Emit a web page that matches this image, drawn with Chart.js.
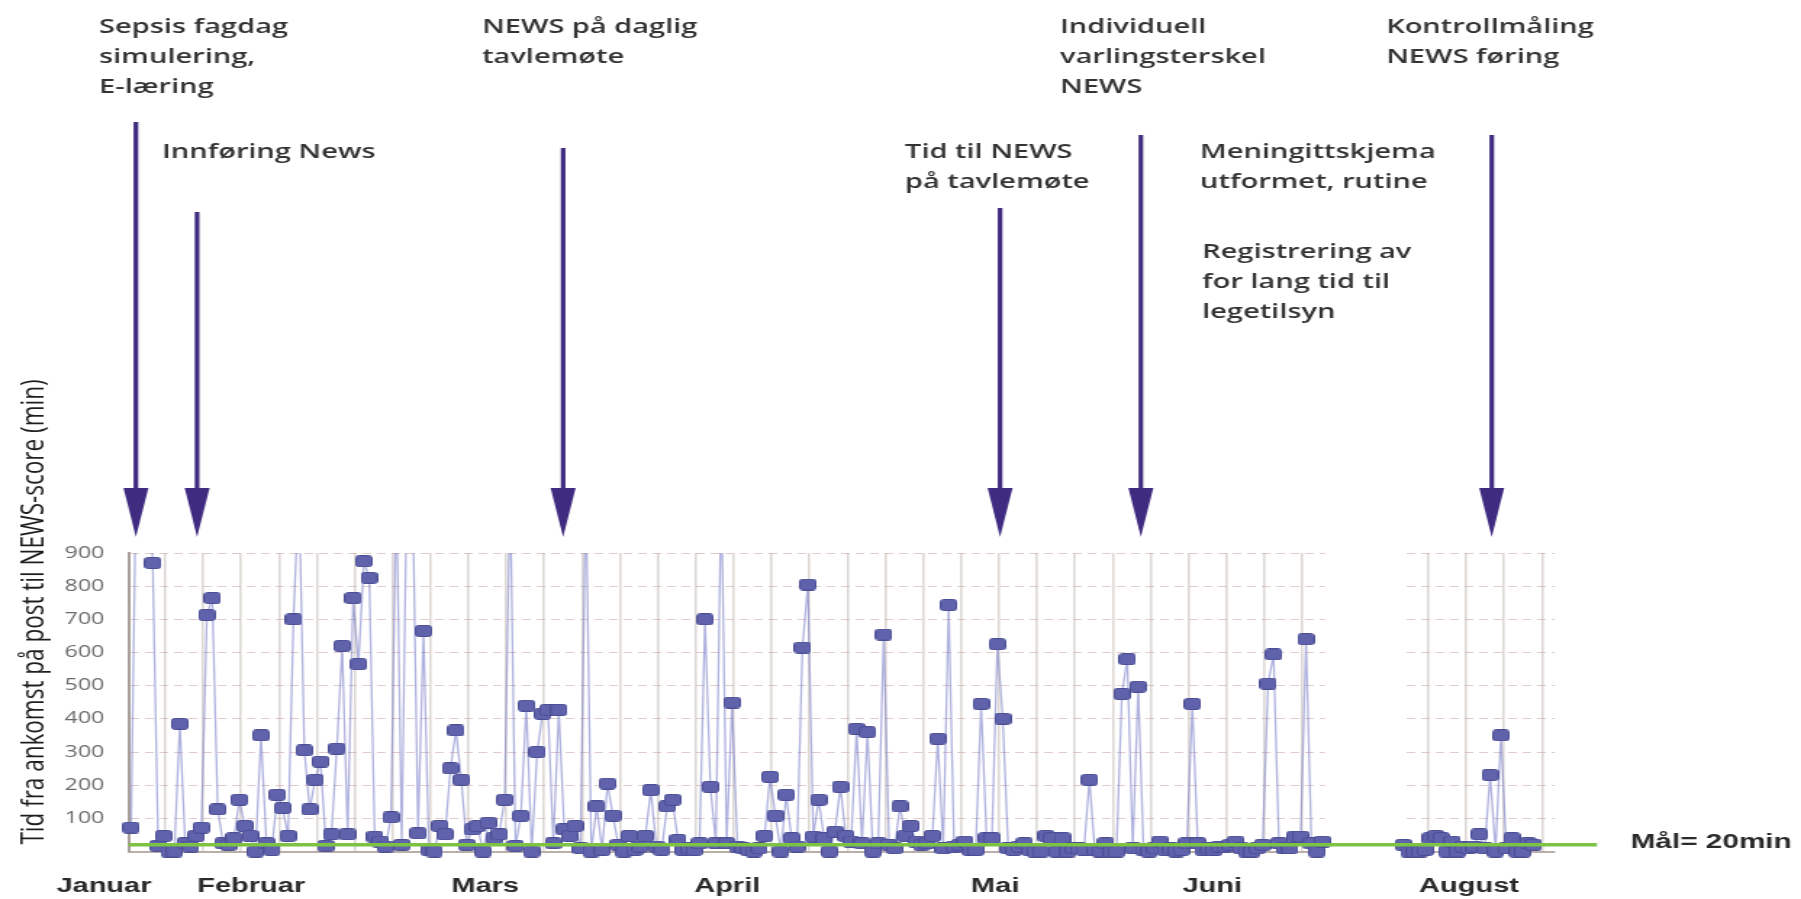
<!DOCTYPE html>
<html lang="no">
<head>
<meta charset="utf-8">
<title>Tid fra ankomst på post til NEWS-score</title>
<script src="https://cdn.jsdelivr.net/npm/chart.js@4.4.1/dist/chart.umd.min.js"></script>
<style>
  html, body { margin: 0; padding: 0; background: #fff; overflow: hidden; }
  #wrap { width: 1801px; height: 899px; overflow: hidden; }
  /* the original picture is stretched sideways, so the canvas is too */
  #newsChart { transform: scaleX(1.4501); transform-origin: 0 0; }
</style>
</head>
<body>
<div id="wrap"><canvas id="newsChart" width="1242" height="899"></canvas></div>
<script>
// --- data (minutes, one registration per day) ---
const MAIN_VALUES = [
  72, 1200, 1500, 1300, 870, 17, 47, 0, 0, 385,
  25, 15, 47, 72, 713, 764, 127, 25, 20, 40,
  156, 77, 47, 0, 350, 25, 5, 171, 131, 47,
  700, 1100, 305, 127, 216, 271, 17, 52, 310, 620,
  52, 764, 565, 875, 825, 45, 30, 15, 103, 1100,
  20, 1200, 1100, 55, 665, 5, 0, 77, 52, 251,
  365, 216, 20, 67, 77, 0, 87, 40, 52, 156,
  1100, 17, 107, 440, 0, 300, 415, 427, 25, 427,
  67, 47, 77, 10, 1100, 0, 136, 5, 205, 108,
  20, 0, 47, 5, 15, 47, 185, 15, 5, 136,
  156, 35, 5, 10, 5, 25, 700, 195, 25, 1100,
  25, 449, 15, 10, 5, 0, 10, 47, 225, 108,
  0, 171, 40, 15, 615, 805, 45, 156, 40, 0,
  60, 195, 47, 30, 370, 25, 360, 0, 25, 654,
  20, 10, 136, 47, 77, 30, 20, 25, 47, 340,
  10, 743, 15, 20, 30, 5, 5, 445, 40, 40,
  625, 400, 10, 5, 15, 25, 5, 0, 0, 47,
  40, 0, 40, 0, 10, 10, 5, 216, 5, 0,
  25, 0, 0, 475, 580, 10, 497, 5, 0, 10,
  30, 5, 10, 0, 5, 25, 445, 25, 5, 10,
  5, 15, 15, 20, 30, 10, 0, 0, 10, 20,
  506, 594, 25, 10, 10, 45, 45, 640, 25, 0,
  30
];
const AUGUST_VALUES = [
  20, 0, 0, 0, 5, 40, 47, 40, 0, 30, 0, 15, 10,
  15, 52, 10, 231, 0, 350, 10, 40, 0, 0, 25, 20
];
const MAIN_FIRST_DAY = 0;
const AUGUST_FIRST_DAY = 235;
const GOAL_MIN = 20;
const GOAL_LABEL = 'Mål= 20min';

const Y_MAX = 900;
const Y_STEP = 100;
const Y_TITLE = 'Tid fra ankomst på post til NEWS-score (min)';

const MONTHS = ['Januar', 'Februar', 'Mars', 'April', 'Mai', 'Juni', 'August'];
const MONTH_DAY = [-5.0, 22.2, 65.4, 110.1, 159.6, 199.7, 247.1];

// interventions: arrows (day) and the notes above them
const ARROW_DAY = [0.9, 12.2, 79.8, 160.5, 186.5, 251.3];
const NOTES = [
  ['Sepsis fagdag', 'simulering,', 'E-læring'],
  ['Innføring News'],
  ['NEWS på daglig', 'tavlemøte'],
  ['Tid til NEWS', 'på tavlemøte'],
  ['Individuell', 'varlingsterskel', 'NEWS'],
  ['Meningittskjema', 'utformet, rutine'],
  ['Registrering av', 'for lang tid til', 'legetilsyn'],
  ['Kontrollmåling', 'NEWS føring']
];

// --- layout (canvas px; the canvas is 1242 wide before stretching) ---
const X_MIN = -0.5, X_MAX = 270.8;
const MAIN_END = 220.5, AUG_START = 234.9, AUG_END = 263.0;
const MAIN_GRID_FIRST = 6.3, MAIN_GRID_COUNT = 31;
const AUG_GRID_FIRST = 239.6, AUG_GRID_COUNT = 4;
const NOTE_POS = [[68.3, 33], [111.7, 158], [332.4, 33], [624.1, 158],
                  [731, 33], [827.6, 158], [829, 258], [955.9, 33]];
const NOTE_LINE = 30;
const ARROW_TOP = [122, 212, 148, 208, 135, 135];
const ARROW_HEAD_TOP = 488, ARROW_TIP = 537;
const ARROW_COLOR = '#3f2b80';

function buildGrid() {
  const t = [];
  for (let k = 0; k < MAIN_GRID_COUNT; k++) t.push({ value: MAIN_GRID_FIRST + 7 * k });
  for (let k = 0; k < AUG_GRID_COUNT; k++) t.push({ value: AUG_GRID_FIRST + 7 * k });
  return t;
}

// small square marker with slightly rounded corners
function makeMarker() {
  const c = document.createElement('canvas');
  c.width = 12;
  c.height = 12;
  const g = c.getContext('2d');
  g.fillStyle = '#6063ab';
  g.strokeStyle = '#4c4e96';
  g.lineWidth = 1;
  g.beginPath();
  g.roundRect(0.5, 0.5, 11, 11, 2.2);
  g.fill();
  g.stroke();
  return c;
}

const overlay = {
  id: 'overlay',
  beforeDatasetsDraw(chart) {
    // July is missing: blank the grid between the two periods and after August
    const { ctx, chartArea: a, scales: { x } } = chart;
    const top = a.top - 2, h = a.bottom - a.top + 6;
    ctx.save();
    ctx.fillStyle = '#fff';
    const g1 = x.getPixelForValue(MAIN_END), g2 = x.getPixelForValue(AUG_START);
    ctx.fillRect(g1, top, g2 - g1, h);
    const g3 = x.getPixelForValue(AUG_END);
    ctx.fillRect(g3, top, a.right - g3 + 4, h);
    ctx.restore();
  },
  afterDraw(chart) {
    const { ctx, chartArea: a, scales: { x, y } } = chart;
    ctx.save();

    // arrows
    ctx.fillStyle = ARROW_COLOR;
    ARROW_DAY.forEach((d, i) => {
      const px = x.getPixelForValue(d);
      ctx.fillRect(px - 1.6, ARROW_TOP[i], 3.2, ARROW_HEAD_TOP - ARROW_TOP[i] + 1);
      ctx.beginPath();
      ctx.moveTo(px - 8.6, ARROW_HEAD_TOP);
      ctx.lineTo(px + 8.6, ARROW_HEAD_TOP);
      ctx.lineTo(px, ARROW_TIP);
      ctx.closePath();
      ctx.fill();
    });

    // notes
    ctx.fillStyle = '#333';
    ctx.font = '600 20px "Open Sans", sans-serif';
    ctx.textAlign = 'left';
    ctx.textBaseline = 'alphabetic';
    NOTES.forEach((lines, i) => {
      lines.forEach((s, j) => ctx.fillText(s, NOTE_POS[i][0], NOTE_POS[i][1] + j * NOTE_LINE));
    });

    // month labels
    ctx.fillStyle = '#2a2a2a';
    ctx.font = 'bold 20px "Liberation Sans", Arial, sans-serif';
    ctx.textAlign = 'center';
    MONTHS.forEach((m, i) => ctx.fillText(m, x.getPixelForValue(MONTH_DAY[i]), 892));

    // goal label
    ctx.textAlign = 'left';
    ctx.font = 'bold 20.5px "Liberation Sans", Arial, sans-serif';
    ctx.fillText(GOAL_LABEL, a.right + 23, y.getPixelForValue(GOAL_MIN) + 3);

    // y axis title
    ctx.fillStyle = '#1e1e1e';
    ctx.font = '22.5px "Open Sans", sans-serif';
    ctx.translate(29.7, 612);
    ctx.rotate(-Math.PI / 2);
    ctx.textAlign = 'center';
    ctx.fillText(Y_TITLE, 0, 0);
    ctx.restore();
  }
};

const seriesStyle = {
  borderColor: 'rgba(110, 115, 195, 0.55)',
  borderWidth: 1.3,
  pointStyle: makeMarker(),
  pointRadius: 6,
  tension: 0,
  clip: { left: 10, top: 0, right: 10, bottom: 10 }
};

const ctx = document.getElementById('newsChart').getContext('2d');
new Chart(ctx, {
  type: 'line',
  data: {
    datasets: [
      {
        ...seriesStyle,
        label: 'Januar-Juni',
        data: MAIN_VALUES.map((v, i) => ({ x: MAIN_FIRST_DAY + i, y: v })),
        order: 2
      },
      {
        ...seriesStyle,
        label: 'August',
        data: AUGUST_VALUES.map((v, i) => ({ x: AUGUST_FIRST_DAY + i, y: v })),
        order: 2
      },
      {
        label: 'Mål',
        data: [{ x: X_MIN, y: GOAL_MIN }, { x: X_MAX, y: GOAL_MIN }],
        borderColor: '#7dc243',
        borderWidth: 3.5,
        pointRadius: 0,
        order: 1
      }
    ]
  },
  options: {
    responsive: false,
    animation: false,
    devicePixelRatio: 1,
    layout: { padding: { top: 553, right: 140.5, bottom: 47.5, left: 0 } },
    plugins: { legend: { display: false }, tooltip: { enabled: false } },
    scales: {
      x: {
        type: 'linear',
        min: X_MIN,
        max: X_MAX,
        afterBuildTicks: (s) => { s.ticks = buildGrid(); },
        afterFit: (s) => { s.height = 0; },
        ticks: { display: false },
        grid: { color: 'rgba(175, 162, 152, 0.42)', lineWidth: 1.6, drawTicks: false },
        border: { color: '#b9aea8', width: 2 }
      },
      y: {
        beginAtZero: true,
        max: Y_MAX,
        afterFit: (s) => { s.width = 88.5; },
        ticks: {
          stepSize: Y_STEP,
          padding: 16.5,
          color: '#6a6a6a',
          font: { family: '"Open Sans", sans-serif', size: 16 },
          callback: (v) => (v === 0 ? '' : v)
        },
        grid: {
          drawTicks: false,
          color: (c) => (c.tick && c.tick.value === 0 ? 'rgba(0,0,0,0)' : 'rgba(200, 160, 160, 0.55)'),
          lineWidth: 1
        },
        border: { color: '#a89f9a', width: 2, dash: [6, 4] }
      }
    }
  },
  plugins: [overlay]
});
</script>
</body>
</html>
